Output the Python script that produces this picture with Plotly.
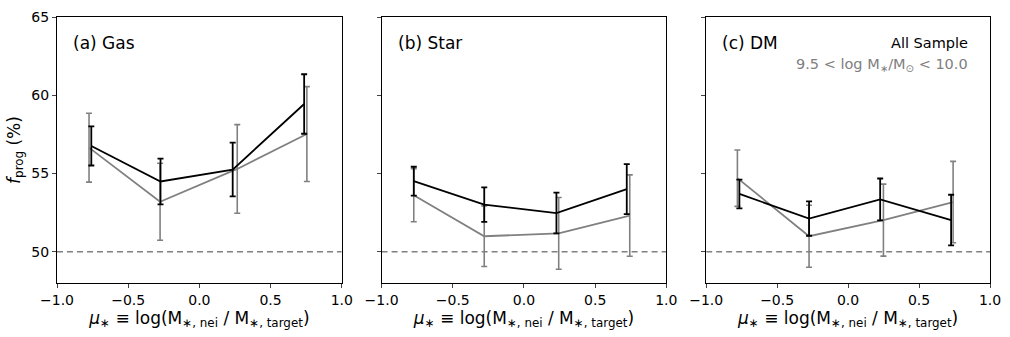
import plotly.graph_objects as go

# ---- data ----
panels = ["(a) Gas", "(b) Star", "(c) DM"]

all_x = [[-0.759, -0.273, 0.234, 0.736],
         [-0.774, -0.279, 0.228, 0.722],
         [-0.766, -0.275, 0.226, 0.726]]
all_y = [[56.76, 54.49, 55.25, 59.44],
         [54.51, 53.01, 52.47, 54.00],
         [53.69, 52.12, 53.34, 52.02]]
all_err = [[1.25, 1.46, 1.72, 1.90],
           [0.92, 1.10, 1.30, 1.60],
           [0.92, 1.10, 1.34, 1.62]]

sub_x = [[-0.775, -0.276, 0.266, 0.755],
         [-0.774, -0.279, 0.244, 0.743],
         [-0.780, -0.275, 0.249, 0.740]]
sub_y = [[56.65, 53.19, 55.29, 57.52],
         [53.61, 50.99, 51.17, 52.31],
         [54.70, 50.99, 52.02, 53.17]]
sub_err = [[2.20, 2.46, 2.83, 3.03],
           [1.70, 1.94, 2.29, 2.60],
           [1.80, 1.98, 2.30, 2.60]]

x_ticks = [-1.0, -0.5, 0.0, 0.5, 1.0]
y_ticks = [50, 55, 60, 65]
baseline = 50

FONT = "DejaVu Sans"
domains = [[0.0, 0.3052], [0.3479, 0.6531], [0.6958, 1.0]]

fig = go.Figure()

for i in range(3):
    xa = "x" if i == 0 else f"x{i+1}"
    ya = "y" if i == 0 else f"y{i+1}"
    fig.add_trace(go.Scatter(x=[-1, 1], y=[baseline, baseline], mode="lines",
                             line=dict(color="#808080", width=1.5, dash="6px,4px"),
                             xaxis=xa, yaxis=ya, showlegend=False, hoverinfo="skip"))
    fig.add_trace(go.Scatter(x=sub_x[i], y=sub_y[i], mode="lines",
                             line=dict(color="#808080", width=1.8),
                             error_y=dict(type="data", array=sub_err[i], color="#808080",
                                          thickness=1.6, width=3),
                             xaxis=xa, yaxis=ya, showlegend=False))
    fig.add_trace(go.Scatter(x=all_x[i], y=all_y[i], mode="lines",
                             line=dict(color="black", width=1.8),
                             error_y=dict(type="data", array=all_err[i], color="black",
                                          thickness=1.8, width=3),
                             xaxis=xa, yaxis=ya, showlegend=False))

xlabel = "<i>μ</i><sub>∗</sub> ≡ log(M<sub>∗, nei</sub> / M<sub>∗, target</sub>)"
layout = dict(
    width=1010, height=337,
    margin=dict(l=57, r=16, t=9, b=54),
    paper_bgcolor="white", plot_bgcolor="white",
    font=dict(family=FONT, color="black", size=14),
    showlegend=False,
)
for i in range(3):
    xk = "xaxis" if i == 0 else f"xaxis{i+1}"
    yk = "yaxis" if i == 0 else f"yaxis{i+1}"
    layout[xk] = dict(domain=domains[i], range=[-1, 1], tickvals=x_ticks,
                      tickformat=".1f", ticks="outside", ticklen=4, tickwidth=1,
                      showline=True, linecolor="black", linewidth=1, mirror=True,
                      showgrid=False, zeroline=False,
                      anchor="y" if i == 0 else f"y{i+1}",
                      tickfont=dict(size=14),
                      title=dict(text=xlabel, font=dict(size=17), standoff=2))
    layout[yk] = dict(domain=[0, 1], range=[48, 65], tickvals=y_ticks,
                      ticks="outside", ticklen=4, tickwidth=1,
                      showline=True, linecolor="black", linewidth=1, mirror=True,
                      showgrid=False, zeroline=False,
                      showticklabels=(i == 0), ticklabeloverflow="allow",
                      anchor="x" if i == 0 else f"x{i+1}",
                      tickfont=dict(size=14))
layout["yaxis"]["title"] = dict(text="<i>f</i><sub>prog</sub> (%)", font=dict(size=17), standoff=6)
fig.update_layout(**layout)

for i, name in enumerate(panels):
    xr = "x domain" if i == 0 else f"x{i+1} domain"
    yr = "y domain" if i == 0 else f"y{i+1} domain"
    fig.add_annotation(text=name, xref=xr, yref=yr, x=0.05, y=0.903,
                       xanchor="left", yanchor="middle", showarrow=False,
                       font=dict(size=17, color="black", family=FONT))

fig.add_annotation(text="All Sample", xref="x3 domain", yref="y3 domain", x=0.93, y=0.901,
                   xanchor="right", yanchor="middle", showarrow=False,
                   font=dict(size=14.5, color="black", family=FONT))
fig.add_annotation(text="9.5 < log M<sub>∗</sub>/M<sub>⊙</sub> < 10.0", xref="x3 domain",
                   yref="y3 domain", x=0.93, y=0.821, xanchor="right", yanchor="middle",
                   showarrow=False, font=dict(size=14.5, color="#808080", family=FONT))

fig.write_html("out.html", config={"displayModeBar": False},
               post_script="document.body.style.margin='0';")
